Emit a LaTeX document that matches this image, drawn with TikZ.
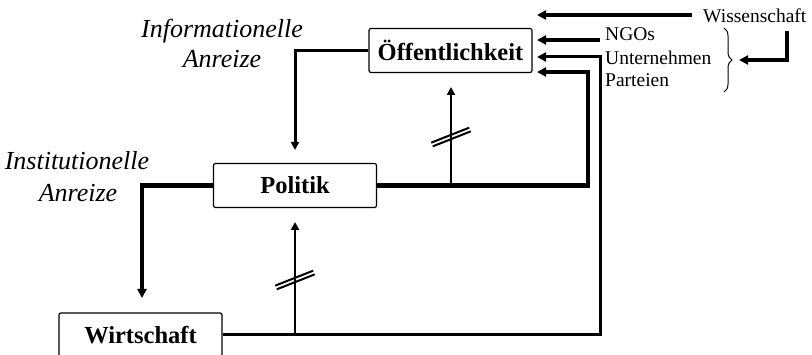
\documentclass[tikz,border=0pt]{standalone}
\usepackage{fontspec}
\setmainfont{Liberation Serif}
\usetikzlibrary{arrows.meta,decorations.pathreplacing}
\begin{document}
\begin{tikzpicture}[x=1pt,y=-1pt,
  box/.style={draw,line width=1.2pt,rounded corners=2pt,minimum width=163pt,
    minimum height=44pt,inner sep=0pt,font=\fontsize{24.5}{28}\selectfont\bfseries},
  heavy/.style={line width=4.4pt},
  medium/.style={line width=3pt},
  fine/.style={line width=2.5pt},
  tip/.style={-{Triangle[length=9pt,width=9pt]}},
  smalltip/.style={-{Triangle[length=8pt,width=8pt]}},
  src/.style={font=\fontsize{19.5}{22}\selectfont,inner sep=0pt,anchor=base west},
  incent/.style={font=\fontsize{26}{30}\selectfont\itshape,inner sep=0pt,anchor=base},
  breakmark/.pic={
    \draw[line width=2pt] (-19.75,5.65) -- (18.25,-9.35);
    \draw[line width=2pt] (-18.25,9.35) -- (19.75,-5.65);
  }
]
\useasboundingbox (0,0) rectangle (812,355);

% the three actors
\node[box] (oeff) at (450.5,50.5) {Öffentlichkeit};
\node[box] (pol)  at (295,185.5) {Politik};
\node[box] (wirt) at (140.5,335) {Wirtschaft};

% incentive labels
\node[incent] (info1) at (222,38) {Informationelle};
\node[incent] (info2) at (222,68) {Anreize};
\node[incent] (inst1) at (77,170) {Institutionelle};
\node[incent] (inst2) at (78,202) {Anreize};

% other sources of public opinion
\node[src] (wiss) at (703,23) {Wissenschaft};
\node[src] (ngo)  at (605,41) {NGOs};
\node[src] (unt)  at (605,65) {Unternehmen};
\node[src] (part) at (605,87) {Parteien};

% connector end points
\coordinate (toPol)   at (295,150);
\coordinate (toWirt)  at (142,298);
\coordinate (cPol)    at (588,72);
\coordinate (inPol)   at (537,72);
\coordinate (cWirt)   at (600,57);
\coordinate (inWirt)  at (537,57);
\coordinate (jPol)    at (451,185.5);
\coordinate (upOeff)  at (451,87);
\coordinate (jWirt)   at (295,335);
\coordinate (upPol)   at (295,222);
\coordinate (wStart)  at (692,15);
\coordinate (wEnd)    at (537,15);
\coordinate (nStart)  at (600,40);
\coordinate (nEnd)    at (537,40);
\coordinate (bTop)    at (724,28);
\coordinate (bBot)    at (724,92);
\coordinate (kStart)  at (787,31);
\coordinate (kCorner) at (787,60);
\coordinate (kEnd)    at (739,60);

% incentives flowing downwards
\draw[medium,smalltip] (oeff.west) -| (toPol);
\draw[heavy,tip]  (pol.west) -| (toWirt);

% feedback to the public
\draw[heavy,tip]  (pol.east) -| (cPol) -- (inPol);
\draw[medium,tip] (wirt.east) -| (cWirt) -- (inWirt);

% interrupted upward influence
\draw[fine,smalltip] (jPol) -- (upOeff);
\draw[fine,smalltip] (jWirt) -- (upPol);
\pic at (451,137) {breakmark};
\pic at (295,280) {breakmark};

% sources on the right
\draw[heavy,tip] (wStart) -- (wEnd);
\draw[heavy,tip] (nStart) -- (nEnd);
\draw[line width=1pt,decorate,decoration={brace,amplitude=8pt}] (bTop) -- (bBot);
\draw[heavy,tip] (kStart) -- (kCorner) -- (kEnd);
\end{tikzpicture}
\end{document}
